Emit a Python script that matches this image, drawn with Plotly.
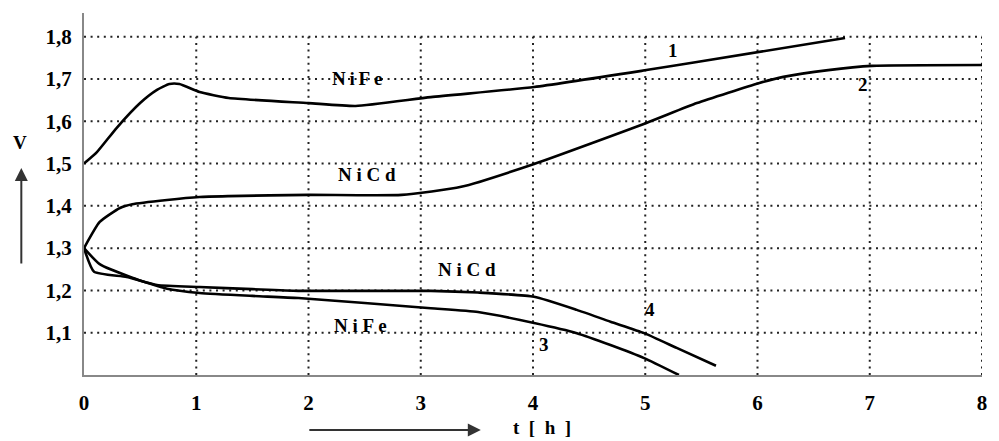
import plotly.graph_objects as go

# Curve 1: NiFe charge
c1_t = [0, 0.115, 0.29, 0.50, 0.65, 0.76, 0.85, 1.03, 1.29, 2.0, 2.42, 3.09, 4.01, 5.01, 5.46, 6.78]
c1_v = [1.5, 1.527, 1.584, 1.643, 1.674, 1.688, 1.688, 1.669, 1.655, 1.643, 1.636, 1.657, 1.681, 1.721, 1.740, 1.797]
# Curve 2: NiCd charge
c2_t = [0, 0.14, 0.32, 0.43, 0.74, 1.03, 1.29, 2.0, 2.83, 3.36, 4.01, 5.01, 5.46, 6.01, 6.23, 6.63, 7.02, 8.0]
c2_v = [1.3, 1.362, 1.395, 1.404, 1.414, 1.421, 1.423, 1.426, 1.426, 1.445, 1.499, 1.596, 1.643, 1.690, 1.705, 1.721, 1.731, 1.733]
# Curve 3: NiFe discharge
c3_t = [0, 0.14, 0.43, 0.74, 1.03, 1.5, 1.91, 3.09, 3.51, 4.01, 4.39, 4.69, 4.99, 5.30]
c3_v = [1.3, 1.262, 1.230, 1.204, 1.194, 1.187, 1.182, 1.158, 1.149, 1.123, 1.099, 1.071, 1.040, 1.0]
# Curve 4: NiCd discharge
c4_t = [0, 0.09, 0.38, 0.65, 1.03, 1.5, 1.91, 3.09, 3.51, 4.01, 4.39, 4.69, 4.99, 5.28, 5.63]
c4_v = [1.3, 1.244, 1.232, 1.213, 1.208, 1.203, 1.199, 1.199, 1.195, 1.185, 1.154, 1.126, 1.099, 1.064, 1.022]

x_ticks = [0, 1, 2, 3, 4, 5, 6, 7, 8]
y_ticks = [1.1, 1.2, 1.3, 1.4, 1.5, 1.6, 1.7, 1.8]
y_ticktext = ["1,1", "1,2", "1,3", "1,4", "1,5", "1,6", "1,7", "1,8"]

labels_text = ["N\u2009i\u2009F\u2009e", "N i C d", "N i C d", "N i F e", "1", "2", "3", "4"]
labels_x = [2.43, 2.52, 3.41, 2.46, 5.25, 6.94, 4.10, 5.04]
labels_y = [1.702, 1.473, 1.249, 1.118, 1.768, 1.686, 1.071, 1.154]

FONT = "Liberation Serif"

fig = go.Figure()
for tt, vv in [(c1_t, c1_v), (c2_t, c2_v), (c3_t, c3_v), (c4_t, c4_v)]:
    fig.add_trace(go.Scatter(x=tt, y=vv, mode="lines",
                             line=dict(color="black", width=2.6, shape="spline", smoothing=0.5),
                             showlegend=False, hoverinfo="skip"))

shapes = []
dot = "2px,4.6px"
for yv in y_ticks:
    shapes.append(dict(type="line", xref="x", yref="y", x0=0, x1=8, y0=yv, y1=yv,
                       line=dict(color="#222", width=2, dash=dot), layer="below"))
for xv in x_ticks[1:]:
    shapes.append(dict(type="line", xref="x", yref="y", x0=xv, x1=xv, y0=1.0, y1=1.8,
                       line=dict(color="#222", width=2, dash=dot), layer="below"))

annotations = []
for txt, ax_, ay_ in zip(labels_text, labels_x, labels_y):
    annotations.append(dict(x=ax_, y=ay_, xref="x", yref="y", text="<b>%s</b>" % txt,
                            showarrow=False, font=dict(family=FONT, size=19, color="black")))
# axis name texts and arrows
annotations.append(dict(x=-0.0708, y=0.641, xref="paper", yref="paper", text="<b>V</b>",
                        xanchor="center", yanchor="middle",
                        showarrow=False, font=dict(family=FONT, size=19, color="black")))
annotations.append(dict(x=-0.0698, y=0.572, xref="paper", yref="paper", text="",
                        showarrow=True, ax=0, ay=97, arrowhead=2, arrowsize=1.3,
                        arrowwidth=2, arrowcolor="#333"))
annotations.append(dict(x=0.5105, y=-0.146, xref="paper", yref="paper", text="<b>t  [  h  ]</b>",
                        xanchor="center", yanchor="middle",
                        showarrow=False, font=dict(family=FONT, size=19, color="black")))
annotations.append(dict(x=0.4419, y=-0.152, xref="paper", yref="paper", text="",
                        showarrow=True, ax=-173, ay=0, arrowhead=2, arrowsize=1.3,
                        arrowwidth=2, arrowcolor="#333"))

fig.update_layout(
    width=999, height=441,
    margin=dict(l=84, r=12, t=13, b=66),
    paper_bgcolor="white", plot_bgcolor="white",
    shapes=shapes, annotations=annotations,
    xaxis=dict(range=[0, 8], tickvals=x_ticks, ticktext=[str(v) for v in x_ticks],
               showgrid=False, zeroline=False, showline=True, linecolor="#888", linewidth=2,
               ticks="", ticklabelstandoff=8,
               tickfont=dict(family=FONT, size=21, color="black", weight="bold")),
    yaxis=dict(range=[1.0, 1.856], tickvals=y_ticks, ticktext=y_ticktext,
               showgrid=False, zeroline=False, showline=True, linecolor="#888", linewidth=2,
               ticks="", ticklabelstandoff=6,
               tickfont=dict(family=FONT, size=21, color="black", weight="bold")),
)

fig.write_html("out.html")
